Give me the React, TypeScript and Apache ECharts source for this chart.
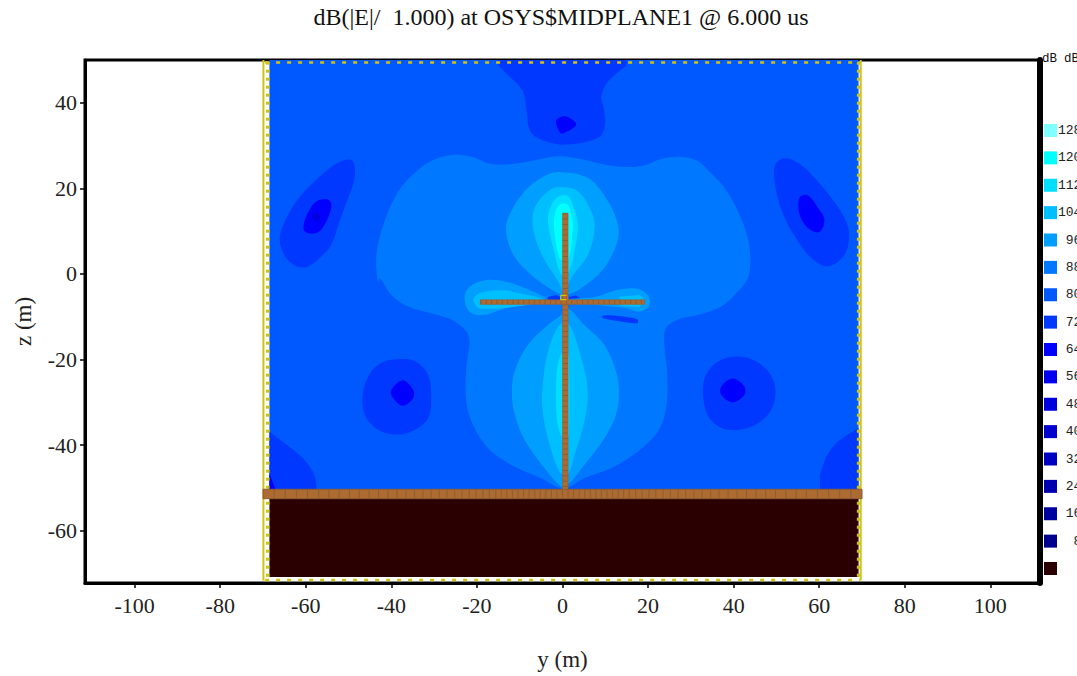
import React, { useEffect, useRef } from "react";
import * as echarts from "echarts";

type Pt = [number, number];

const titleText = "dB(|E|/  1.000) at OSYS$MIDPLANE1 @ 6.000 us";
const xTicks = [-100, -80, -60, -40, -20, 0, 20, 40, 60, 80, 100];
const yTicks = [-60, -40, -20, 0, 20, 40];
const legendLabels = ["128", "120", "112", "104", "96", "88", "80", "72", "64", "56", "48", "40", "32", "24", "16", "8", ""];
const legendColors = ["#80FFFF", "#00FFFF", "#00DFFF", "#00BFFF", "#009FFF", "#0078FF", "#0058FF", "#0038FF", "#0000FF", "#0000EF", "#0000DF", "#0000CF", "#0000BF", "#0000AF", "#00009F", "#00008F", "#2B0000"];

// contour regions, in (y, z) metres
const level80: Pt[][] = [[[-68.5, 50], [69.2, 50], [69.2, -50.8], [-68.5, -50.8]]];
const level88: Pt[][] = [[
  [-43.1, -2.1], [-43.5, 4.5], [-41.6, 12.3], [-38.4, 19.3], [-34.6, 23.6], [-30.7, 26.4], [-26, 27.8], [-21.3, 27.4], [-16.6, 25.7], [-12, 25.7], [-7.3, 26.4], [-0.85, 27.5], [5.1, 26.7], [9.8, 25.6], [15.3, 25], [19.2, 25.4], [23.1, 26.9], [27.7, 27.4], [31.6, 26.4], [34.7, 23.6], [37.9, 20.1], [41, 14.7], [43.3, 8.4], [43.9, 3], [43.3, -1], [41, -4.1], [37.1, -7.6], [31.6, -9.6], [26.9, -10.7], [24.2, -12.7], [23.8, -16.6], [24.5, -23.6], [24.2, -31.4], [22.3, -36.8], [17.6, -41.5], [11.4, -45.4], [5.1, -47.7], [1.1, -50], [-0.7, -50], [-5, -47.7], [-12, -44.6], [-17.4, -40.7], [-20.9, -35.3], [-22.5, -29.8], [-22.5, -22], [-21.9, -14.6], [-25.2, -11.1], [-30.7, -9.2], [-36.1, -7.6], [-40, -4.9], [-42.7, -1],
]];
const level72: Pt[][] = [
  [[-15.1, 50], [-15, 48.8], [-13.6, 47.3], [-12, 45.8], [-10.4, 44.3], [-9.2, 42.7], [-8.7, 40.8], [-8.5, 38.8], [-8.2, 36.8], [-8.1, 34.9], [-7.5, 33.3], [-6.5, 32.2], [-4.6, 31.2], [-2.6, 30.6], [-0.5, 30.2], [2, 30.3], [4.4, 30.6], [7, 31.3], [9, 32.2], [9.8, 34], [10, 35.7], [9.7, 38.5], [9, 41.2], [9.5, 43.2], [10.6, 45], [12.6, 46.9], [14.9, 48.6], [15, 50]],
  [[-49, 26.4], [-51.3, 26.5], [-54.8, 24.4], [-58.7, 20.9], [-62.2, 17], [-64.9, 12.3], [-66.1, 8.1], [-64.9, 4.2], [-62.6, 2], [-59.9, 1.6], [-56.7, 3.8], [-54, 6.9], [-52.1, 12.3], [-50.1, 17.8], [-48.6, 22.5]],
  [[49.5, 24.8], [51.5, 27], [55, 26], [58.9, 22.5], [62.8, 17.8], [65.9, 13.1], [67, 9.2], [65.9, 4.5], [62, 1.8], [58.1, 3.8], [55, 7.7], [52.3, 12.3], [50.3, 17.8]],
  [[-38.8, -19.9], [-34.6, -20.3], [-31.4, -23.6], [-30.7, -29], [-31.4, -33.7], [-35.3, -36.8], [-39.2, -37.5], [-43.1, -36.4], [-46.2, -32.9], [-46.6, -27.5], [-44.7, -22.8], [-42, -20.6]],
  [[41, -19.3], [45.6, -20.6], [49.1, -24.4], [49.7, -29], [48, -32.9], [44.1, -35.7], [38.6, -36.4], [34.7, -34.1], [33, -29.8], [33.2, -24.4], [36.3, -20.5]],
  [[-68.5, -36.8], [-66.7, -38.2], [-64.9, -39.6], [-62.9, -41.1], [-61, -42.7], [-59.5, -44.4], [-58.3, -46.2], [-57.7, -48], [-57.4, -50.8], [-68.5, -50.8]],
  [[69.2, -36], [66.7, -37.5], [64.3, -39.2], [62.8, -40.9], [61.6, -42.7], [60.8, -44.9], [60.2, -47], [60.2, -50.8], [69.2, -50.8]],
  [[9.4, -9.7], [13, -9.8], [17.5, -10.6], [17.5, -11.5], [13, -11], [9.4, -10.3]],
  [[-3.4, -5.4], [-1.5, -4.9], [-0.5, -5.4], [-0.5, -6.2], [-3.4, -6.2]],
  [[1.5, -5.4], [3, -5], [4.2, -5.6], [4.2, -6.2], [1.5, -6.2]],
];
const level64: Pt[][] = [
  [[-1.5, 35.7], [-0.5, 33], [0.5, 33], [3.2, 34.9], [1.6, 36.5], [0, 36.8]],
  [[-57.5, 17], [-54.8, 17.4], [-54, 15.8], [-55.6, 11.5], [-57.5, 9.6], [-60.3, 10], [-60.3, 12.3], [-59.1, 15]],
  [[55.4, 17.8], [57.3, 18.4], [59.7, 15.5], [61.2, 12.7], [60, 9.8], [57.3, 10.8], [55.4, 13.9]],
  [[-37.3, -24.8], [-34.9, -27.1], [-34.9, -29], [-37.3, -30.8], [-39.6, -29], [-40, -27.1]],
  [[39.8, -24.4], [42.5, -26.3], [42.5, -28.3], [39.8, -30], [37.1, -28.3], [37.1, -26.3]],
  [[-68.5, -46.6], [-66.9, -50.8], [-68.5, -50.8]],
];
const level56: Pt[][] = [
  [[-57.5, 14.6], [-56.5, 13.4], [-57.5, 12.2], [-58.5, 13.4]],
];
const level96: Pt[][] = [
  [[-0.5, 23.8], [5.9, 22.5], [9.6, 18.6], [12.5, 13.1], [13, 8.4], [10.5, 2.5], [7.9, -0.6], [3.6, -3.8], [0.5, -4.9], [-2.3, -3.8], [-6.9, -0.6], [-11.2, 4], [-13.1, 9.2], [-12.7, 13.1], [-8.9, 19.3], [-4.2, 22.9]],
  [[-0.3, -9.6], [-3.4, -11.9], [-8.1, -16.6], [-11.2, -22.8], [-11.8, -29], [-10.4, -35.3], [-8.1, -40], [-4.2, -45.4], [-0.3, -49.7], [1.2, -49.3], [5.1, -44.6], [9.8, -38.4], [12.5, -32.9], [13.2, -27.5], [12.5, -22.8], [9.8, -16.6], [5.1, -11.9], [1.2, -8]],
  [[-22.9, -5.7], [-21.7, -3], [-17.8, -1.4], [-13.2, -1.8], [-8.5, -3.4], [-3.8, -6.1], [-13.2, -8], [-18.6, -9.6], [-21.7, -8.8]],
  [[1, -6], [7.9, -5.3], [12.5, -3.8], [17.2, -3.4], [19.9, -4.9], [20.3, -7.3], [18, -8.8], [14.9, -8], [8.6, -7.3]],
];
const level104: Pt[][] = [
  [[-0.5, 20.3], [3.6, 19.3], [6.7, 14.7], [7.5, 10.8], [6, 4.6], [2, -1], [0.4, -4.3], [-1, -1.7], [-4.9, 4.6], [-6.9, 10.8], [-6.5, 15.5], [-3.4, 19.3]],
  [[-0.7, -11.9], [-3.4, -18.1], [-4.6, -25.9], [-4.7, -31.4], [-3.4, -38.4], [-0.7, -46.2], [1.2, -46.9], [2.8, -42.3], [5.1, -34.5], [5.9, -27.5], [4.4, -19.7], [1.6, -11.9]],
  [[-20.8, -6.1], [-19.4, -4.5], [-13.9, -3.8], [-10, -4.5], [-4.6, -6], [-10, -7.5], [-19.4, -8]],
  [[13.3, -5.3], [18, -4.9], [19.2, -6.1], [18, -7.7], [13.3, -7.4]],
];
const level112: Pt[][] = [
  [[-0.7, 18.2], [1.25, 18.2], [2.4, 16.2], [3.6, 11.6], [2.8, 5.3], [1.2, -0.1], [-0.3, -0.1], [-1.8, 4.6], [-3.4, 12.3], [-2.6, 16.2]],
  [[-0.4, -18.9], [1.2, -18.1], [1.6, -23.6], [1.6, -33], [1.2, -38.4], [-0.4, -37.6], [-1.4, -33], [-1.4, -23.6]],
];
const level120: Pt[][] = [
  [[-0.7, 16.2], [1.2, 16.2], [2, 13.9], [2.4, 10.8], [1.2, 3], [-0.7, 3.8], [-2, 10.8], [-1.8, 13.9]],
];
const groundBlock: Pt[][] = [[[-68.5, -52.3], [69.2, -52.3], [69.2, -70.8], [-68.5, -70.8]]];

// structure, in metres
const planeCuts = [1.3, 2.6, 3.9, 5.2, 6.5, 7.8, 9.1, 10.4, 11.7, 13, 14.3, 15.6, 17.1, 18.6, 20.2, 21.8, 23.5, 25.2, 27, 28.8, 30.7, 32.6, 34.6, 36.6, 38.7, 40.8, 43, 45.2, 47.5, 49.8, 52.2, 54.6, 57, 59.6, 62.2, 64.8, 67.4];
const planeBar: Pt[] = [[-70, -50.3], [70, -52.5]];
const mastBar: Pt[] = [[0, 14.2], [1.3, -50.3]];
const armBar: Pt[] = [[-19.2, -6], [19.2, -7.1]];
const feedBox: Pt[] = [[-0.4, -5], [1, -6]];
const boundarySide: Pt[][] = [[[-69.9, 50], [-69.9, -71.6]], [[69.7, 50], [69.7, -71.6]]];
const boundaryDash: Pt[][] = [[[-68.9, 49.6], [-68.9, -71.4]], [[69.2, 49.6], [69.2, -71.4]]];
const boundaryRows: Pt[][] = [[[-69.5, 49.4], [69.5, 49.4]], [[-69.5, -71.5], [69.5, -71.5]]];

const FIELD = [
  { name: "80", color: legendColors[6], polys: level80 },
  { name: "88", color: legendColors[5], polys: level88 },
  { name: "72", color: legendColors[7], polys: level72 },
  { name: "64", color: legendColors[8], polys: level64 },
  { name: "56", color: legendColors[10], polys: level56 },
  { name: "96", color: legendColors[4], polys: level96 },
  { name: "104", color: legendColors[3], polys: level104 },
  { name: "112", color: legendColors[2], polys: level112 },
  { name: "120", color: legendColors[1], polys: level120 },
  { name: "ground", color: legendColors[16], polys: groundBlock },
];

const SERIF = '"Liberation Serif", serif';
const MONO = '"Liberation Mono", monospace';
const BROWN = "#AD6B32";
const CELL = "#8A5E34";
const YELLOW = "#CFC414";

const touchesEdge = (poly: Pt[]) => poly.some((p) => Math.abs(p[0]) >= 68.5 || p[1] >= 50 || p[1] <= -50.4);

function regionSeries(r: { name: string; color: string; polys: Pt[][] }) {
  return {
    type: "custom",
    name: r.name,
    silent: true,
    clip: false,
    data: r.polys.map((p) => p[0]),
    encode: { x: 0, y: 1 },
    renderItem: (params: any, api: any) => {
      const poly = r.polys[params.dataIndex];
      return {
        type: "polygon",
        shape: {
          points: poly.map((p) => api.coord(p)),
          smooth: touchesEdge(poly) || poly.length <= 5 ? 0 : 0.35,
        },
        style: { fill: r.color, stroke: "none" },
      };
    },
  };
}

function rectOf(api: any, b: Pt[], style: any) {
  const a = api.coord(b[0]);
  const c = api.coord(b[1]);
  return { type: "rect", shape: { x: a[0], y: a[1], width: c[0] - a[0], height: c[1] - a[1] }, style };
}
function lineOf(api: any, s: Pt[], style: any) {
  const a = api.coord(s[0]);
  const c = api.coord(s[1]);
  return { type: "line", shape: { x1: a[0], y1: a[1], x2: c[0], y2: c[1] }, style };
}

const boundarySeries = {
  type: "custom",
  name: "boundary",
  silent: true,
  clip: false,
  data: [boundarySide[0][0]],
  encode: { x: 0, y: 1 },
  renderItem: (_: any, api: any) => ({
    type: "group",
    children: [
      ...boundarySide.map((s) => lineOf(api, s, { stroke: YELLOW, lineWidth: 2 })),
      ...boundaryDash.map((s) => lineOf(api, s, { stroke: YELLOW, lineWidth: 3.5, lineDash: [3, 5] })),
      ...boundaryRows.map((s) => lineOf(api, s, { stroke: YELLOW, lineWidth: 2.5, lineDash: [4, 7] })),
    ],
  }),
};

const structureSeries = {
  type: "custom",
  name: "structure",
  silent: true,
  clip: false,
  data: [mastBar[0]],
  encode: { x: 0, y: 1 },
  renderItem: (_: any, api: any) => {
    const cell = { stroke: CELL, lineWidth: 1 };
    const cuts = planeCuts.flatMap((c) => [c, -c]);
    cuts.push(0);
    const mastCenter = (mastBar[0][0] + mastBar[1][0]) / 2;
    const armMid = (armBar[0][1] + armBar[1][1]) / 2;
    return {
      type: "group",
      children: [
        rectOf(api, planeBar, { fill: BROWN, stroke: CELL, lineWidth: 1 }),
        ...cuts.map((c) => lineOf(api, [[c, planeBar[0][1]], [c, planeBar[1][1]]], cell)),
        rectOf(api, mastBar, { fill: BROWN, stroke: CELL, lineWidth: 0.5 }),
        lineOf(api, [[mastCenter, mastBar[0][1]], [mastCenter, mastBar[1][1]]], { stroke: CELL, lineWidth: 5, lineDash: [1, 4.35] }),
        rectOf(api, armBar, { fill: BROWN, stroke: CELL, lineWidth: 0.5 }),
        lineOf(api, [[armBar[0][0], armMid], [armBar[1][0], armMid]], { stroke: CELL, lineWidth: 4, lineDash: [1, 4.35] }),
        rectOf(api, feedBox, { fill: "none", stroke: "#D9C400", lineWidth: 1.2 }),
        lineOf(api, [[feedBox[1][0], feedBox[0][1]], [feedBox[1][0], feedBox[1][1]]], { stroke: "#E02010", lineWidth: 1 }),
      ],
    };
  },
};

const LEGEND_LEFT = 1044;
const LEGEND_TOP = 124;
const LEGEND_STEP = 27.375;
const SWATCH = 13;
const TEXT_LEFT = 1058;
const CHAR_W = 7.8;

const legendGraphics = legendLabels.flatMap((label, i) => {
  const y = LEGEND_TOP + i * LEGEND_STEP;
  const out: any[] = [
    { type: "rect", left: LEGEND_LEFT, top: y, shape: { width: SWATCH, height: SWATCH }, style: { fill: legendColors[i] } },
  ];
  if (label) {
    out.push({
      type: "text",
      x: TEXT_LEFT + (3 - label.length) * CHAR_W,
      y: y + SWATCH / 2,
      style: { text: label, font: `13px ${MONO}`, fill: "#222", textVerticalAlign: "middle" },
    });
  }
  return out;
});

export default function App() {
  const ref = useRef<HTMLDivElement>(null);
  useEffect(() => {
    const chart = echarts.init(ref.current!, null, { renderer: "svg" });
    chart.setOption({
      animation: false,
      backgroundColor: "#fff",
      title: {
        text: titleText,
        left: 561,
        top: 5,
        padding: 0,
        textAlign: "center",
        textStyle: { fontFamily: SERIF, fontSize: 24, fontWeight: "normal", color: "#111" },
      },
      grid: { left: 85, right: 37, top: 60, bottom: 93, show: true, borderColor: "#000", borderWidth: 3, backgroundColor: "#fff" },
      xAxis: {
        type: "value",
        min: -111.6,
        max: 111.6,
        name: "y (m)",
        nameLocation: "middle",
        nameGap: 65,
        nameTextStyle: { fontFamily: SERIF, fontSize: 23, color: "#222" },
        splitLine: { show: false },
        axisLine: { show: true, onZero: false, lineStyle: { color: "#000", width: 3 } },
        axisTick: { show: true, length: 5, customValues: xTicks, lineStyle: { color: "#000", width: 1.5 } },
        axisLabel: { margin: 11, customValues: xTicks, fontFamily: SERIF, fontSize: 22, color: "#222" },
      },
      yAxis: [
        {
          type: "value",
          min: -72.2,
          max: 50,
          name: "z (m)",
          nameLocation: "middle",
          nameGap: 50,
          nameRotate: 90,
          nameTextStyle: { fontFamily: SERIF, fontSize: 23, color: "#222" },
          splitLine: { show: false },
          axisLine: { show: true, onZero: false, lineStyle: { color: "#000", width: 3 } },
          axisTick: { show: true, length: 5, customValues: yTicks, lineStyle: { color: "#000", width: 1.5 } },
          axisLabel: { margin: 8, customValues: yTicks, fontFamily: SERIF, fontSize: 22, color: "#222" },
        },
        {
          type: "value",
          position: "right",
          min: -72.2,
          max: 50,
          splitLine: { show: false },
          axisLine: { show: true, onZero: false, lineStyle: { color: "#000", width: 6 } },
          axisTick: { show: false },
          axisLabel: { show: false },
        },
      ],
      graphic: [
        ...legendGraphics,
        { type: "text", x: 1042, y: 59, z: 100, style: { text: "dB", font: `12.5px ${MONO}`, fill: "#111", textVerticalAlign: "middle" } },
        { type: "text", x: 1064, y: 59, z: 100, style: { text: "dB", font: `12.5px ${MONO}`, fill: "#111", textVerticalAlign: "middle" } },
      ],
      series: [...FIELD.map(regionSeries), boundarySeries, structureSeries],
    });
    return () => chart.dispose();
  }, []);
  return <div ref={ref} style={{ position: "absolute", left: 0, top: 0, width: 1077, height: 676 }} />;
}
